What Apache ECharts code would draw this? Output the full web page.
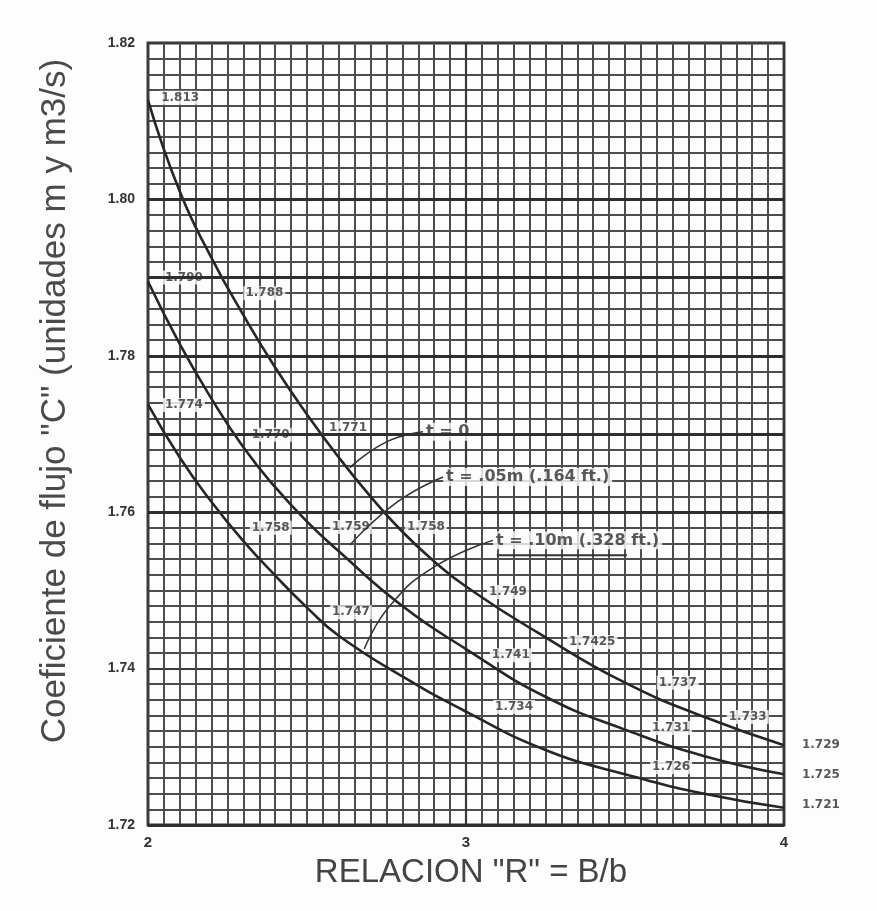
<!DOCTYPE html>
<html>
<head>
<meta charset="utf-8">
<script src="https://cdn.jsdelivr.net/npm/echarts@6/dist/echarts.min.js"></script>
<style>
  html,body{margin:0;padding:0;background:#fdfdfd;}
  #chart{width:877px;height:911px;}
</style>
</head>
<body>
<div id="chart"></div>
<script>
// curvas (R = B/b, C)
var xT0   = [2.0, 2.1, 2.2, 2.3, 2.4, 2.5, 2.6, 2.7, 2.8, 2.9, 3.0, 3.25, 3.5, 3.75, 4.0];
var yT0   = [1.8127, 1.8010, 1.7925, 1.7852, 1.7785, 1.7725, 1.7670, 1.7620, 1.7575, 1.7537, 1.7505, 1.7440, 1.7382, 1.7338, 1.7302];
var xT05  = [2.0, 2.1, 2.2, 2.3, 2.4, 2.5, 2.6, 2.8, 3.0, 3.25, 3.5, 3.75, 4.0];
var yT05  = [1.7895, 1.7815, 1.7745, 1.7683, 1.7632, 1.7588, 1.7550, 1.7480, 1.7425, 1.7364, 1.7322, 1.7288, 1.7265];
var xT10  = [2.0, 2.1, 2.2, 2.3, 2.4, 2.5, 2.6, 2.8, 3.0, 3.25, 3.5, 3.75, 4.0];
var yT10  = [1.7738, 1.7670, 1.7613, 1.7563, 1.7519, 1.7478, 1.7442, 1.7390, 1.7345, 1.7296, 1.7265, 1.7240, 1.7222];

// rotulos de valores sobre las curvas [x, y, texto]
var valueNotes = [
  [2.035, 1.8130, '1.813'], [2.047, 1.7900, '1.790'], [2.30, 1.7880, '1.788'],
  [2.047, 1.7737, '1.774'], [2.32, 1.7699, '1.770'], [2.563, 1.7708, '1.771'],
  [2.32, 1.7580, '1.758'], [2.572, 1.7581, '1.759'], [2.808, 1.7581, '1.758'],
  [2.572, 1.7472, '1.747'], [3.066, 1.7498, '1.749'], [3.075, 1.7417, '1.741'],
  [3.318, 1.7434, '1.7425'], [3.085, 1.7351, '1.734'], [3.60, 1.7382, '1.737'],
  [3.579, 1.7324, '1.731'], [3.82, 1.7338, '1.733'], [3.579, 1.7274, '1.726'],
  [4.05, 1.7302, '1.729'], [4.05, 1.7264, '1.725'], [4.05, 1.7226, '1.721']
];
var curveNotes = [
  [2.865, 1.7703, 't = 0'],
  [2.928, 1.7645, 't = .05m (.164 ft.)'],
  [3.085, 1.7564, 't = .10m (.328 ft.)']
];
// lineas guia de los rotulos t
var leadT0  = [[2.865, 1.7703], [2.75, 1.7690], [2.635, 1.7657]];
var leadT05 = [[2.928, 1.7645], [2.78, 1.7612], [2.635, 1.7558]];
var leadT10 = [[3.085, 1.7564], [2.90, 1.7530], [2.76, 1.7480], [2.68, 1.7425]];
var underT10 = [[3.097, 1.7545], [3.506, 1.7545]];
// lineas gruesas de la cuadricula
var heavyY = [1.800, 1.790, 1.788, 1.780, 1.774, 1.772, 1.758, 1.756, 1.724, 1.722];

var yTitle = 'Coeficiente de flujo "C" (unidades m y m3/s)';
var xTitle = 'RELACION "R" = B/b';

var chart = echarts.init(document.getElementById('chart'));

function pairs(xs, ys){
  var out = [];
  for (var i = 0; i < xs.length; i++) out.push([xs[i], ys[i]]);
  return out;
}
var curveStyle = {color:'#262626', width:2.6};
var leadStyle = {color:'#333', width:1.5};

chart.setOption({
  backgroundColor:'#fdfdfd',
  animation:false,
  grid:{left:148, right:93, top:43, bottom:86, show:true, borderColor:'#2e2e2e', borderWidth:2.8},
  graphic:[
    {type:'text', x:55, y:401, rotation:Math.PI/2,
      style:{text:yTitle, fontFamily:'Liberation Sans', fontSize:35, fill:'#4a4a4a', align:'center', verticalAlign:'middle'}},
    {type:'text', x:471, y:873,
      style:{text:xTitle, fontFamily:'Liberation Sans', fontSize:33, fill:'#444', align:'center', verticalAlign:'middle'}}
  ],
  xAxis:{
    type:'value', min:2, max:4, interval:1,
    axisLine:{show:false}, axisTick:{show:false},
    axisLabel:{margin:10, fontFamily:'Liberation Sans', fontWeight:'bold', fontSize:15, color:'#333'},
    splitLine:{lineStyle:{color:'#3a3a3a', width:2.2}},
    minorTick:{show:false, splitNumber:20},
    minorSplitLine:{show:true, lineStyle:{color:'#4d4d4d', width:2}}
  },
  yAxis:{
    type:'value', min:1.72, max:1.82, interval:0.02,
    axisLine:{show:false}, axisTick:{show:false},
    axisLabel:{margin:13, fontFamily:'Liberation Sans', fontWeight:'bold', fontSize:14, color:'#333',
      formatter:function(v){ return v.toFixed(2); }},
    splitLine:{lineStyle:{color:'#3a3a3a', width:2.2}},
    minorTick:{show:false, splitNumber:10},
    minorSplitLine:{show:true, lineStyle:{color:'#4d4d4d', width:2}}
  },
  series:[
    {type:'line', name:'t = 0', data:pairs(xT0, yT0), smooth:true, showSymbol:false, lineStyle:curveStyle,
      markLine:{silent:true, symbol:'none', label:{show:false},
        lineStyle:{color:'#2e2e2e', width:3, type:'solid'},
        data:heavyY.map(function(v){ return {yAxis:v}; })}},
    {type:'line', name:'t = .05m', data:pairs(xT05, yT05), smooth:true, showSymbol:false, lineStyle:curveStyle},
    {type:'line', name:'t = .10m', data:pairs(xT10, yT10), smooth:true, showSymbol:false, lineStyle:curveStyle},
    {type:'line', data:leadT0, smooth:true, showSymbol:false, lineStyle:leadStyle},
    {type:'line', data:leadT05, smooth:true, showSymbol:false, lineStyle:leadStyle},
    {type:'line', data:leadT10, smooth:true, showSymbol:false, lineStyle:leadStyle},
    {type:'line', data:underT10, showSymbol:false, lineStyle:{color:'#333', width:2}},
    {type:'scatter', symbolSize:0, clip:false, silent:true,
      data:valueNotes.map(function(n){ return {value:[n[0], n[1]], name:n[2]}; }),
      label:{show:true, position:'right', distance:0, formatter:'{b}',
        fontFamily:'DejaVu Sans', fontWeight:'bold', fontSize:12, color:'#2e2e2e',
        backgroundColor:'#fdfdfd', padding:[1,2]}},
    {type:'scatter', symbolSize:0, clip:false, silent:true,
      data:curveNotes.map(function(n){ return {value:[n[0], n[1]], name:n[2]}; }),
      label:{show:true, position:'right', distance:0, formatter:'{b}',
        fontFamily:'DejaVu Sans', fontWeight:'bold', fontSize:16, color:'#2e2e2e',
        backgroundColor:'#fdfdfd', padding:[1,3]}}
  ]
});
</script>
</body>
</html>
